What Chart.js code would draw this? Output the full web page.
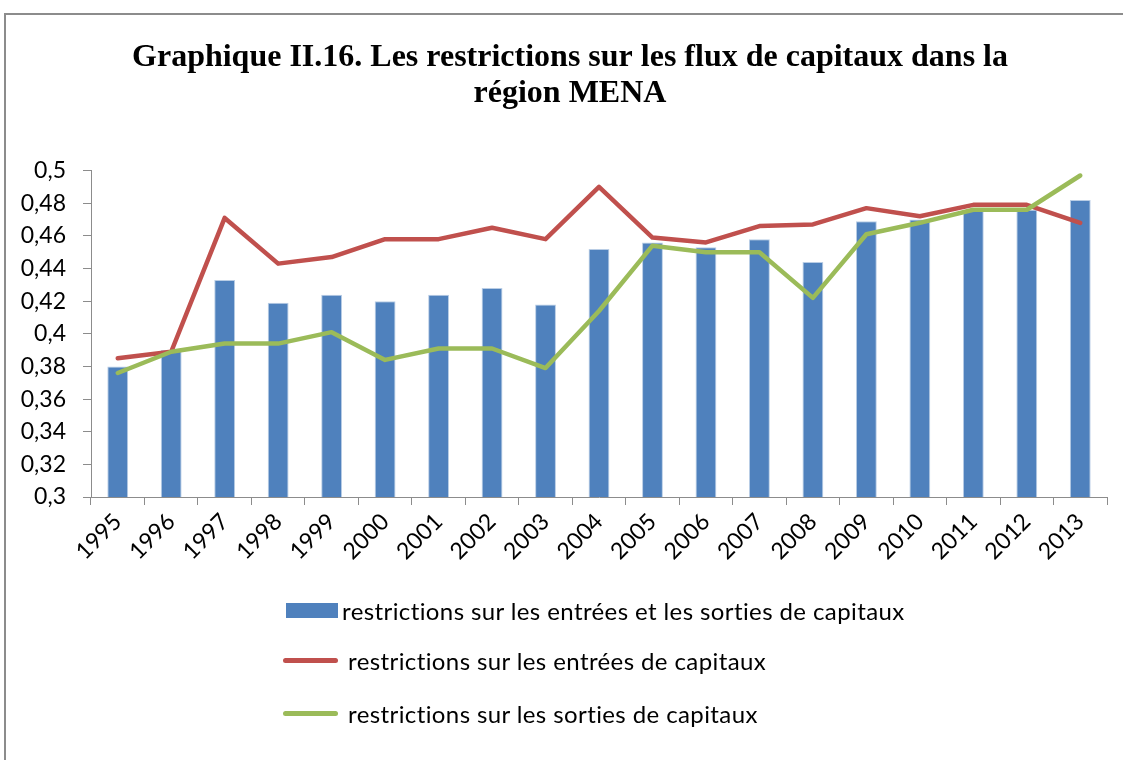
<!DOCTYPE html>
<html>
<head>
<meta charset="utf-8">
<script src="https://cdn.jsdelivr.net/npm/chart.js@4.4.1/dist/chart.umd.min.js"></script>
<style>
    body { margin: 0; background: #fff; overflow: hidden; width: 1123px; height: 760px; }
    #frame { position: absolute; left: 4px; top: 13px; width: 1140px; height: 770px; border: 2px solid #8c8c8c; }
    #chart-box { position: absolute; left: 0; top: 0; width: 1128px; height: 745px; }
    #legend { position: absolute; left: 277px; top: 0; font-family: Lato, sans-serif; font-size: 24px; letter-spacing: 0.4px; color: #000; }
    .row { position: absolute; left: 0; height: 30px; display: flex; align-items: center; white-space: nowrap; }
    .box { width: 52px; height: 15px; margin-left: 3px; margin-right: 4px; }
    .line { width: 55px; height: 5px; border-radius: 3px; margin-right: 10px; }
</style>
</head>
<body>
<div id="frame">
    <div id="chart-box"><canvas id="chart"></canvas></div>
    <div id="legend"></div>
</div>
<script>
const years = ["1995", "1996", "1997", "1998", "1999", "2000", "2001", "2002", "2003", "2004",
    "2005", "2006", "2007", "2008", "2009", "2010", "2011", "2012", "2013"];
const entreesSorties = [0.380, 0.390, 0.433, 0.419, 0.424, 0.420, 0.424, 0.428, 0.418, 0.452,
    0.456, 0.453, 0.458, 0.444, 0.469, 0.470, 0.476, 0.476, 0.482];
const entrees = [0.385, 0.389, 0.471, 0.443, 0.447, 0.458, 0.458, 0.465, 0.458, 0.490,
    0.459, 0.456, 0.466, 0.467, 0.477, 0.472, 0.479, 0.479, 0.468];
const sorties = [0.376, 0.389, 0.394, 0.394, 0.401, 0.384, 0.391, 0.391, 0.379, 0.414,
    0.454, 0.450, 0.450, 0.422, 0.461, 0.468, 0.476, 0.476, 0.497];
const seriesNames = [
    "restrictions sur les entrées et les sorties de capitaux",
    "restrictions sur les entrées de capitaux",
    "restrictions sur les sorties de capitaux"
];
const titleLines = ["Graphique II.16. Les restrictions sur les flux de capitaux dans la", "région MENA"];

const axisGrey = '#8c8c8c';
const tickFont = { family: 'Lato', size: 23 };

const ctx = document.getElementById("chart").getContext("2d");
const chart = new Chart(ctx, {
    type: 'bar',
    data: {
        labels: years,
        datasets: [{
            type: 'bar',
            label: seriesNames[0],
            data: entreesSorties,
            backgroundColor: '#4f81bd',
            borderColor: '#b9cde5',
            borderWidth: 1,
            barPercentage: 0.39,
            categoryPercentage: 1,
            order: 3
        }, {
            type: 'line',
            label: seriesNames[1],
            data: entrees,
            borderColor: '#c0504d',
            borderWidth: 4.5,
            pointRadius: 0,
            borderCapStyle: 'round',
            borderJoinStyle: 'round',
            tension: 0,
            order: 2
        }, {
            type: 'line',
            label: seriesNames[2],
            data: sorties,
            borderColor: '#9bbb59',
            borderWidth: 4.5,
            pointRadius: 0,
            borderCapStyle: 'round',
            borderJoinStyle: 'round',
            tension: 0,
            order: 1
        }]
    },
    options: {
        responsive: true,
        maintainAspectRatio: false,
        animation: false,
        layout: {
            // same padding on both sides keeps the title centred like the original
            padding: { left: 27, right: 27, top: 0, bottom: 173 }
        },
        plugins: {
            legend: { display: false },
            tooltip: { enabled: false },
            title: {
                display: true,
                text: titleLines,
                color: '#000',
                font: { family: 'Liberation Serif', size: 32, weight: 'bold', lineHeight: 1.15 },
                padding: { top: 24, bottom: 58 }
            }
        },
        scales: {
            x: {
                grid: {
                    display: true,
                    drawOnChartArea: false,
                    drawTicks: true,
                    tickLength: 8,
                    offset: true,
                    color: axisGrey
                },
                border: { color: axisGrey, width: 1 },
                ticks: {
                    color: '#000',
                    font: tickFont,
                    minRotation: 45,
                    maxRotation: 45,
                    padding: 3
                },
                afterFit: axis => { axis.height = 90; }
            },
            y: {
                min: 0.3,
                max: 0.5,
                grid: {
                    display: true,
                    drawOnChartArea: false,
                    drawTicks: true,
                    tickLength: 8,
                    color: axisGrey
                },
                border: { color: axisGrey, width: 1 },
                ticks: {
                    stepSize: 0.02,
                    color: '#000',
                    font: tickFont,
                    padding: 17,
                    callback: value => parseFloat(value.toFixed(2)).toString().replace('.', ',')
                },
                afterFit: axis => {
                    axis.width = 58;
                    // labels stick out into the left padding, don't clip them
                    axis._computeLabelArea = () => undefined;
                }
            }
        }
    }
});

// legend in three rows, like the original
const legendTops = [580, 630, 683];
const legendBox = document.getElementById("legend");
chart.data.datasets.forEach((ds, i) => {
    const row = document.createElement("div");
    row.className = "row";
    row.style.top = legendTops[i] + "px";
    const mark = document.createElement("span");
    if (ds.type === 'bar') {
        mark.className = "box";
        mark.style.background = ds.backgroundColor;
    } else {
        mark.className = "line";
        mark.style.background = ds.borderColor;
    }
    const text = document.createElement("span");
    text.textContent = ds.label;
    row.appendChild(mark);
    row.appendChild(text);
    legendBox.appendChild(row);
});
</script>
</body>
</html>
